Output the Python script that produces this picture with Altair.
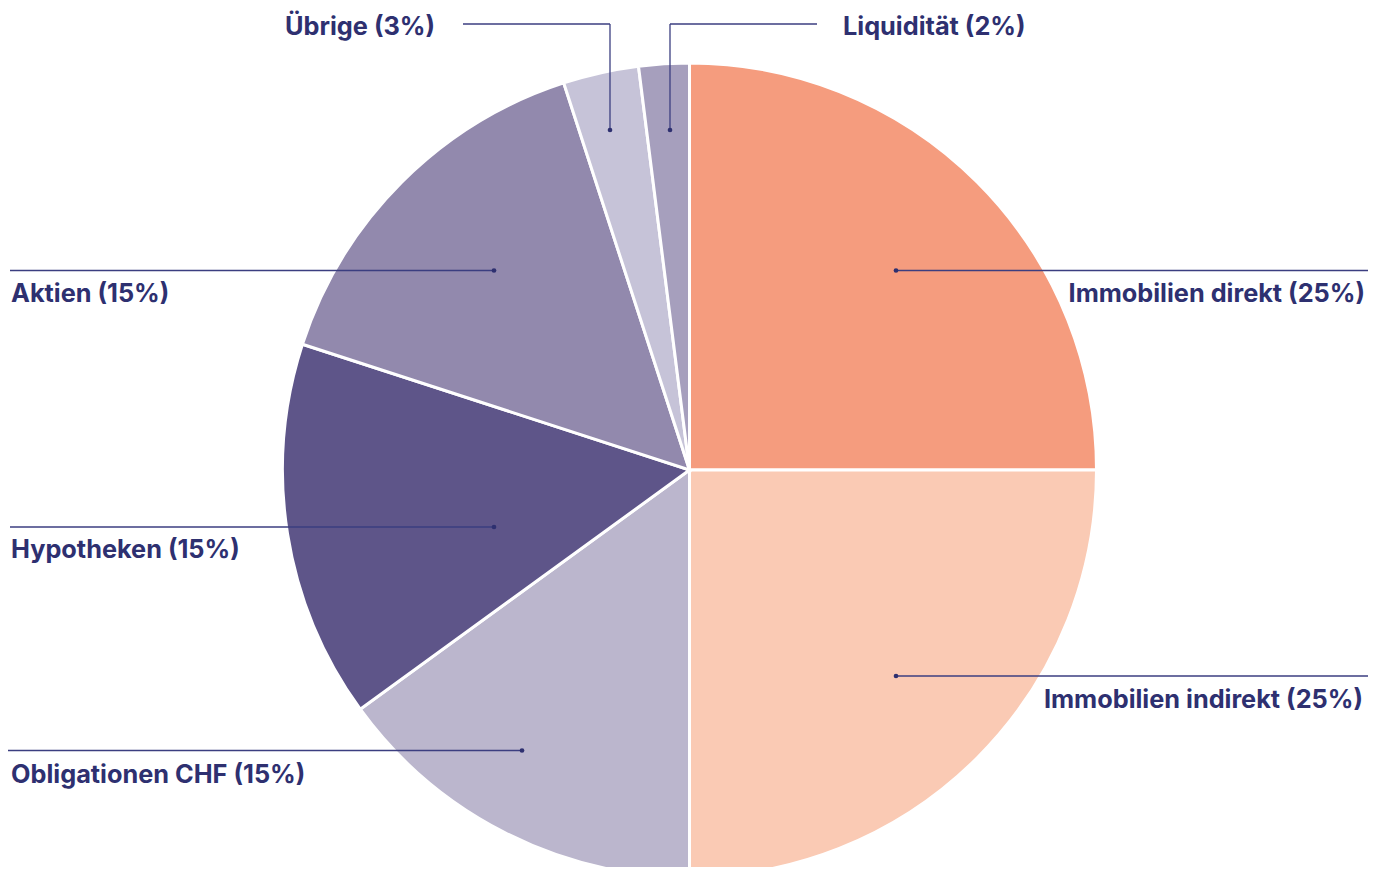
import altair as alt
import pandas as pd

# ---- data ----
categories = ["Immobilien direkt", "Immobilien indirekt", "Obligationen CHF",
              "Hypotheken", "Aktien", "Übrige", "Liquidität"]
shares = [25, 25, 15, 15, 15, 3, 2]
colors = ["#F59C7E", "#FACAB4", "#BBB6CD", "#5E5589", "#9289AD", "#C6C3D8", "#A69FBD"]
labels = [f"{c} ({v}%)" for c, v in zip(categories, shares)]

# ---- layout (chart pixel coordinates, annotations only) ----
W, H = 1367, 859
CX, CY, R = 681.5, 462, 407
TEXT = "#2E3070"
LINE = "#3B3E80"

# dot x, dot y, elbow x, elbow y, end x, end y, label x, label y, align
ann = {
    "Immobilien direkt":   (888, 262.5, 888, 262.5, 1360, 262.5, 1357, 293.5, "right"),
    "Immobilien indirekt": (888, 668, 888, 668, 1360, 668, 1355, 700, "right"),
    "Obligationen CHF":    (514, 742.5, 514, 742.5, 0, 742.5, 3, 775, "left"),
    "Hypotheken":          (486, 519, 486, 519, 2, 519, 3, 550, "left"),
    "Aktien":              (486, 262.5, 486, 262.5, 2, 262.5, 3, 293.5, "left"),
    "Übrige":              (602, 122, 602, 16, 455, 16, 427, 27, "right"),
    "Liquidität":          (662, 122, 662, 16, 809, 16, 835, 27, "left"),
}

pie_df = pd.DataFrame({"cat": categories, "value": shares, "idx": range(len(categories))})

seg_rows, dot_rows, lab_rows = [], [], []
for c, lab in zip(categories, labels):
    dx, dy, ex, ey, tx, ty, lx, ly, al = ann[c]
    seg_rows.append({"x": dx, "y": dy, "x2": ex, "y2": ey})
    seg_rows.append({"x": ex, "y": ey, "x2": tx, "y2": ty})
    dot_rows.append({"x": dx, "y": dy})
    lab_rows.append({"x": lx, "y": ly, "text": lab, "align": al})

seg_df = pd.DataFrame(seg_rows)
dot_df = pd.DataFrame(dot_rows)
lab_df = pd.DataFrame(lab_rows)

pie = alt.Chart(pie_df).mark_arc(outerRadius=R, stroke="white", strokeWidth=3).encode(
    theta=alt.Theta("value:Q", stack=True),
    order=alt.Order("idx:Q"),
    color=alt.Color("cat:N", scale=alt.Scale(domain=categories, range=colors), legend=None),
    x=alt.value(CX),
    y=alt.value(CY),
)

rules = alt.Chart(seg_df).mark_rule(color=LINE, strokeWidth=1.3).encode(
    x=alt.X("x:Q", scale=None), y=alt.Y("y:Q", scale=None),
    x2="x2:Q", y2="y2:Q",
)

dots = alt.Chart(dot_df).mark_circle(color=TEXT, size=22, opacity=1).encode(
    x=alt.X("x:Q", scale=None), y=alt.Y("y:Q", scale=None),
)

left_df = lab_df[lab_df["align"] == "left"]
right_df = lab_df[lab_df["align"] == "right"]

def text_layer(df, align):
    return alt.Chart(df).mark_text(
        align=align, baseline="alphabetic", font="Inter", fontSize=25.3,
        fontWeight=700, color=TEXT,
    ).encode(
        x=alt.X("x:Q", scale=None), y=alt.Y("y:Q", scale=None), text="text:N",
    )

chart = alt.layer(pie, rules, dots, text_layer(left_df, "left"), text_layer(right_df, "right")).properties(
    width=W, height=H, autosize=alt.AutoSizeParams(type="none"), padding=0,
).configure_view(stroke=None)

chart.save("out.html", embed_options={"renderer": "svg", "actions": False})
